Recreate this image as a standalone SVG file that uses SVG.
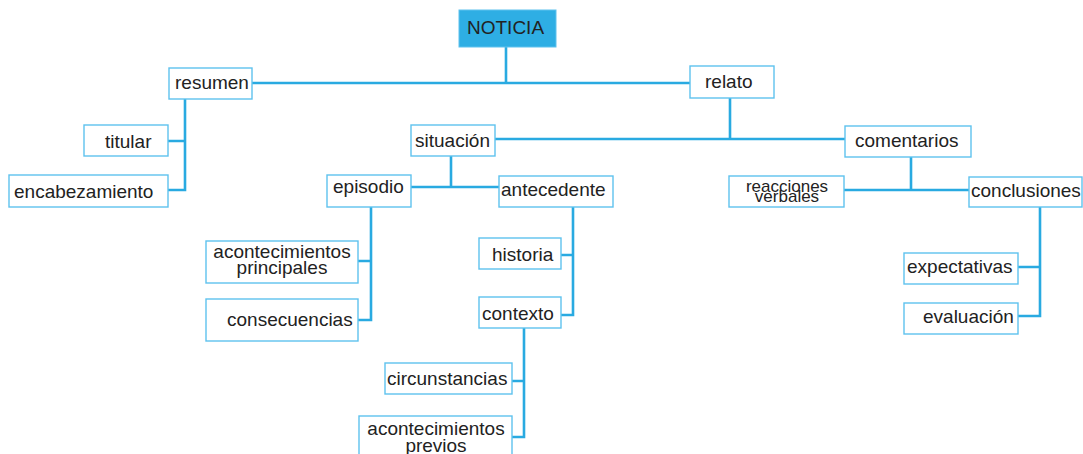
<svg xmlns="http://www.w3.org/2000/svg" width="1083" height="454" viewBox="0 0 1083 454">
<style>
.box{fill:#fff;stroke:#5EC2EE;stroke-width:1.4}
.t{font-family:"Liberation Sans",Arial,sans-serif;font-size:19px;fill:#222}
.s{font-family:"Liberation Sans",Arial,sans-serif;font-size:17px;fill:#222}
.c{fill:none;stroke:#29AAE1;stroke-width:2.6}
</style>
<rect width="1083" height="454" fill="#fff"/>
<g id="connectors">
<path class="c" d="M506 47V83M252 83H690"/>
<path class="c" d="M730 98V139M495 139H845"/>
<path class="c" d="M451 156V187M411 187H499"/>
<path class="c" d="M911 157V190M844 190H969"/>
<path class="c" d="M185 99V190H168M168 141H185"/>
<path class="c" d="M371 207V320H358M358 261H371"/>
<path class="c" d="M573 207V315H561M561 255H573"/>
<path class="c" d="M524 328V437H512M512 381H524"/>
<path class="c" d="M1040 207V316H1018M1018 267H1040"/>
</g>
<g id="noticia"><rect x="459" y="10" width="97" height="37" fill="#2EAEE4" stroke="#5EC2EE" stroke-width="1"/><text class="t" x="467" y="34" font-size="18">NOTICIA</text></g>
<g id="resumen"><rect class="box" x="169" y="68" width="83" height="31"/><text class="t" x="175" y="89">resumen</text></g>
<g id="relato"><rect class="box" x="690" y="66" width="84" height="32"/><text class="t" x="705" y="88">relato</text></g>
<g id="titular"><rect class="box" x="84" y="125" width="84" height="31"/><text class="t" x="105" y="148">titular</text></g>
<g id="encabezamiento"><rect class="box" x="9" y="175" width="159" height="32"/><text class="t" x="14" y="198">encabezamiento</text></g>
<g id="situacion"><rect class="box" x="411" y="125" width="84" height="31"/><text class="t" x="415" y="147">situación</text></g>
<g id="comentarios"><rect class="box" x="845" y="126" width="126" height="31"/><text class="t" x="855" y="147">comentarios</text></g>
<g id="episodio"><rect class="box" x="327" y="175" width="84" height="32"/><text class="t" x="333" y="193">episodio</text></g>
<g id="antecedente"><rect class="box" x="499" y="176" width="114" height="31"/><text class="t" x="501" y="196">antecedente</text></g>
<g id="reacciones"><rect class="box" x="729" y="176" width="115" height="31"/><text class="s" text-anchor="middle"><tspan x="787" y="191.5">reacciones</tspan><tspan x="787" y="202">verbales</tspan></text></g>
<g id="conclusiones"><rect class="box" x="969" y="177" width="113" height="30"/><text class="t" x="971" y="197">conclusiones</text></g>
<g id="acontecimientos-principales"><rect class="box" x="206" y="241" width="152" height="42"/><text class="t" text-anchor="middle"><tspan x="282" y="258">acontecimientos</tspan><tspan x="282" y="274">principales</tspan></text></g>
<g id="consecuencias"><rect class="box" x="206" y="299" width="152" height="42"/><text class="t" x="227" y="326">consecuencias</text></g>
<g id="historia"><rect class="box" x="479" y="238" width="82" height="31"/><text class="t" x="492" y="261">historia</text></g>
<g id="contexto"><rect class="box" x="479" y="297" width="82" height="31"/><text class="t" x="482" y="320">contexto</text></g>
<g id="circunstancias"><rect class="box" x="385" y="363" width="127" height="31"/><text class="t" x="387" y="385">circunstancias</text></g>
<g id="acontecimientos-previos"><rect class="box" x="359" y="416" width="153" height="44"/><text class="t" text-anchor="middle"><tspan x="436" y="435">acontecimientos</tspan><tspan x="436" y="451.5">previos</tspan></text></g>
<g id="expectativas"><rect class="box" x="904" y="253" width="114" height="31"/><text class="t" x="907" y="273">expectativas</text></g>
<g id="evaluacion"><rect class="box" x="904" y="303" width="114" height="31"/><text class="t" x="923" y="323">evaluación</text></g>
</svg>
